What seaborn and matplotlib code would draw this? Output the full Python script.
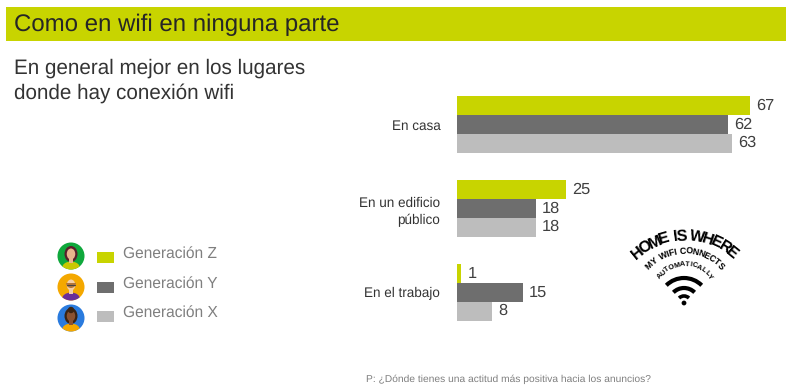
import numpy as np
import pandas as pd
import seaborn as sb
import matplotlib
matplotlib.use('Agg')
import matplotlib.pyplot as plt
from matplotlib.patches import Rectangle, Circle, Ellipse, Arc, Wedge
from matplotlib.textpath import TextPath
from matplotlib.font_manager import FontProperties

lugares = ['En casa', 'En un edificio\npúblico', 'En el trabajo']
generaciones = ['Generación Z', 'Generación Y', 'Generación X']
gen_z = [67, 25, 1]
gen_y = [62, 18, 15]
gen_x = [63, 18, 8]
colores = ['#c8d400', '#6e6e6e', '#bdbdbd']

titulo = 'Como en wifi en ninguna parte'
subtitulo = 'En general mejor en los lugares\ndonde hay conexión wifi'
pregunta = 'P: ¿Dónde tienes una actitud más positiva hacia los anuncios?'

datos = pd.DataFrame({
    'lugar': lugares * 3,
    'generacion': [g for g in generaciones for _ in lugares],
    'valor': gen_z + gen_y + gen_x,
})

W, H = 787, 388
sb.set_theme(style='white')
plt.rcParams['font.family'] = ['Liberation Sans', 'DejaVu Sans']
plt.rcParams['text.hinting'] = 'no_hinting'

fig = plt.figure(figsize=(W / 100, H / 100), dpi=100, facecolor='white')

# capa de fondo en pixeles
bg = fig.add_axes([0, 0, 1, 1])
bg.set_xlim(0, W)
bg.set_ylim(H, 0)
bg.axis('off')

bg.add_patch(Rectangle((6, 7), 780, 34, color='#c8d400', lw=0))
bg.text(14, 24.5, titulo, fontsize=17.25, color='#262626', va='center')
bg.text(14, 81, subtitulo, fontsize=14.9, color='#333333', va='center', linespacing=1.35)
bg.text(366, 379, pregunta, fontsize=7.4, color='#7f7f7f', va='center')

# barras
ax = fig.add_axes([457 / W, 1 - 334.5 / H, 330 / W, 252 / H])
ax.patch.set_alpha(0)
sb.barplot(data=datos, y='lugar', x='valor', hue='generacion', order=lugares,
           hue_order=generaciones, palette=colores, width=0.668, gap=0,
           saturation=1, legend=False, linewidth=0, ax=ax)
ax.set_xlim(0, 330 / 4.37)
ax.set_ylim(2.5, -0.5)
ax.set_xlabel('')
ax.set_ylabel('')
ax.set_xticks([])
ax.tick_params(axis='y', length=0, pad=12, labelsize=9.75, labelcolor='#333333')
for t in ax.get_yticklabels():
    t.set_ha('right')
    t.set_multialignment('right')
    t.set_linespacing(1.35)
sb.despine(ax=ax, left=True, bottom=True)
for c in ax.containers:
    ax.bar_label(c, padding=4.5, fontsize=11.8, color='#404040')

# leyenda con avatares
filas_y = [257, 287, 316]
avatar_y = [256, 287, 318]
fondo = ['#0fa83c', '#f4a800', '#2a7bde']
piel = ['#e8b48c', '#f3cfa8', '#8a5232']
pelo = ['#5a1f2b', '#b5763a', '#3a2414']
ropa = ['#c8c800', '#6a2f9a', '#f4a800']
for i in range(3):
    bg.add_patch(Rectangle((97, filas_y[i] - 5), 16.5, 10.5, color=colores[i], lw=0))
    bg.text(123, filas_y[i] - 3, generaciones[i], fontsize=11.2, color='#7f7f7f', va='center')
    cx, cy = 71, avatar_y[i]
    disco = Circle((cx, cy), 13.5, color=fondo[i], lw=0)
    bg.add_patch(disco)
    cuerpo = Ellipse((cx, cy + 12), 18, 13, color=ropa[i], lw=0)
    bg.add_patch(cuerpo)
    cuerpo.set_clip_path(disco)
    if i != 1:
        bg.add_patch(Ellipse((cx, cy - 2), 13, 16, color=pelo[i], lw=0))
    bg.add_patch(Rectangle((cx - 2, cy + 1), 4, 6, color=piel[i], lw=0))
    bg.add_patch(Ellipse((cx, cy - 2), 8.5, 11, color=piel[i], lw=0))
    if i == 1:
        bg.add_patch(Wedge((cx, cy - 4), 5, 0, 180, color=pelo[i], lw=0))
        bg.plot([cx - 4, cx + 4], [cy - 2, cy - 2], color='#444444', lw=0.8)
    if i == 2:
        bg.add_patch(Circle((cx, cy - 8), 3.2, color=pelo[i], lw=0))


# logo wifi: texto en arco, letra por letra, separadas segun su ancho
fuente = FontProperties(family='Liberation Sans', weight='bold')


def ancho(letra):
    if letra == ' ':
        return 0.4
    return TextPath((0, 0), letra, size=1, prop=fuente).get_extents().x1 + 0.05


def arco(texto, cx, cy, r, semi, size):
    w = np.array([ancho(l) for l in texto])
    centros = np.cumsum(w) - w / 2
    centros = (centros - centros[0]) / (centros[-1] - centros[0])
    for letra, f in zip(texto, centros):
        a = -semi + 2 * semi * f
        x = cx + r * np.sin(np.radians(a))
        y = cy - r * np.cos(np.radians(a))
        bg.text(x, y, letra, rotation=-a, ha='center', va='center',
                fontproperties=FontProperties(family='Liberation Sans', weight='bold', size=size),
                color='black', rotation_mode='anchor')


arco('HOME IS WHERE', 685, 311, 75, 39, 11.6)
arco('MY WIFI CONNECTS', 685, 300, 49, 46, 6.4)
arco('AUTOMATICALLY', 685, 296, 32, 52, 5.2)
for r, lw in [(25, 3), (15, 3), (7, 2.6)]:
    bg.add_patch(Arc((684, 303), 2 * r, 2 * r, theta1=225, theta2=315, color='black', lw=lw))
bg.add_patch(Circle((684, 303), 2.4, color='black', lw=0))

fig.savefig('out.png', dpi=100, facecolor='white')
